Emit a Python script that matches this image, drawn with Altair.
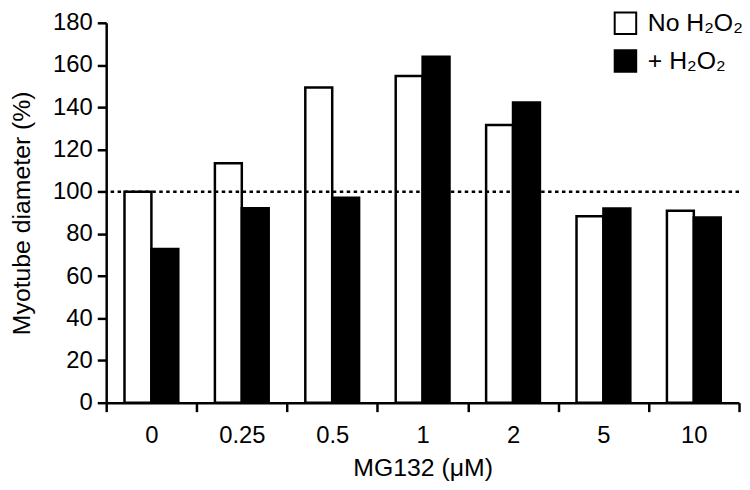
import altair as alt
import pandas as pd

categories = ["0", "0.25", "0.5", "1", "2", "5", "10"]
series_names = ["No H₂O₂", "+ H₂O₂"]
no_h2o2 = [100, 113.5, 149.3, 154.8, 131.6, 88.4, 91.0]
plus_h2o2 = [72.8, 92.2, 97.1, 163.9, 142.2, 92.0, 87.8]
y_ticks = [0, 20, 40, 60, 80, 100, 120, 140, 160, 180]
reference_value = 100

rows = []
for i, c in enumerate(categories):
    rows.append({"dose": c, "group": series_names[0], "value": no_h2o2[i]})
    rows.append({"dose": c, "group": series_names[1], "value": plus_h2o2[i]})
df = pd.DataFrame(rows)

FONT = "Liberation Sans"

bars = alt.Chart(df).mark_bar(stroke="black", strokeWidth=2.5, strokeJoin="miter").encode(
    x=alt.X("dose:N", sort=categories, title="MG132 (μM)",
            scale=alt.Scale(paddingInner=0, paddingOuter=0),
            axis=alt.Axis(labelAngle=0, tickBand="extent", domainWidth=2.5, tickWidth=2.5,
                          tickSize=9, labelPadding=12, titlePadding=8,
                          labelFontSize=24, titleFontSize=25)),
    xOffset=alt.XOffset("group:N", sort=series_names,
                        scale=alt.Scale(paddingInner=0, paddingOuter=0.68)),
    y=alt.Y("value:Q", title="Myotube diameter (%)",
            scale=alt.Scale(domain=[0, 180], nice=False),
            axis=alt.Axis(values=y_ticks, domainWidth=2.5, tickWidth=2.5, tickSize=9,
                          labelPadding=5, titlePadding=18, grid=False,
                          labelFontSize=24, titleFontSize=25)),
    fill=alt.Fill("group:N", sort=series_names,
                  scale=alt.Scale(domain=series_names, range=["white", "black"]),
                  legend=alt.Legend(title=None, orient="none", legendX=511, legendY=-12,
                                    symbolType="square", symbolSize=470, symbolStrokeColor="black",
                                    symbolStrokeWidth=2, labelFontSize=25, rowPadding=7,
                                    labelOffset=10, padding=0)),
)

rule = alt.Chart(pd.DataFrame({"y": [reference_value]})).mark_rule(
    color="black", strokeWidth=2.5, strokeDash=[3.5, 3.5]
).encode(y="y:Q")

chart = alt.layer(bars, rule).properties(
    width=638, height=383,
    autosize=alt.AutoSizeParams(type="none"),
    padding={"left": 99, "top": 13, "right": 3, "bottom": 78},
).configure(font=FONT).configure_axis(
    domainColor="black", tickColor="black", labelColor="black", titleColor="black",
    labelFont=FONT, titleFont=FONT, titleFontWeight="normal",
).configure_legend(labelFont=FONT, labelColor="black").configure_view(stroke=None)

chart.save("out.html", embed_options={"renderer": "svg", "actions": False})
